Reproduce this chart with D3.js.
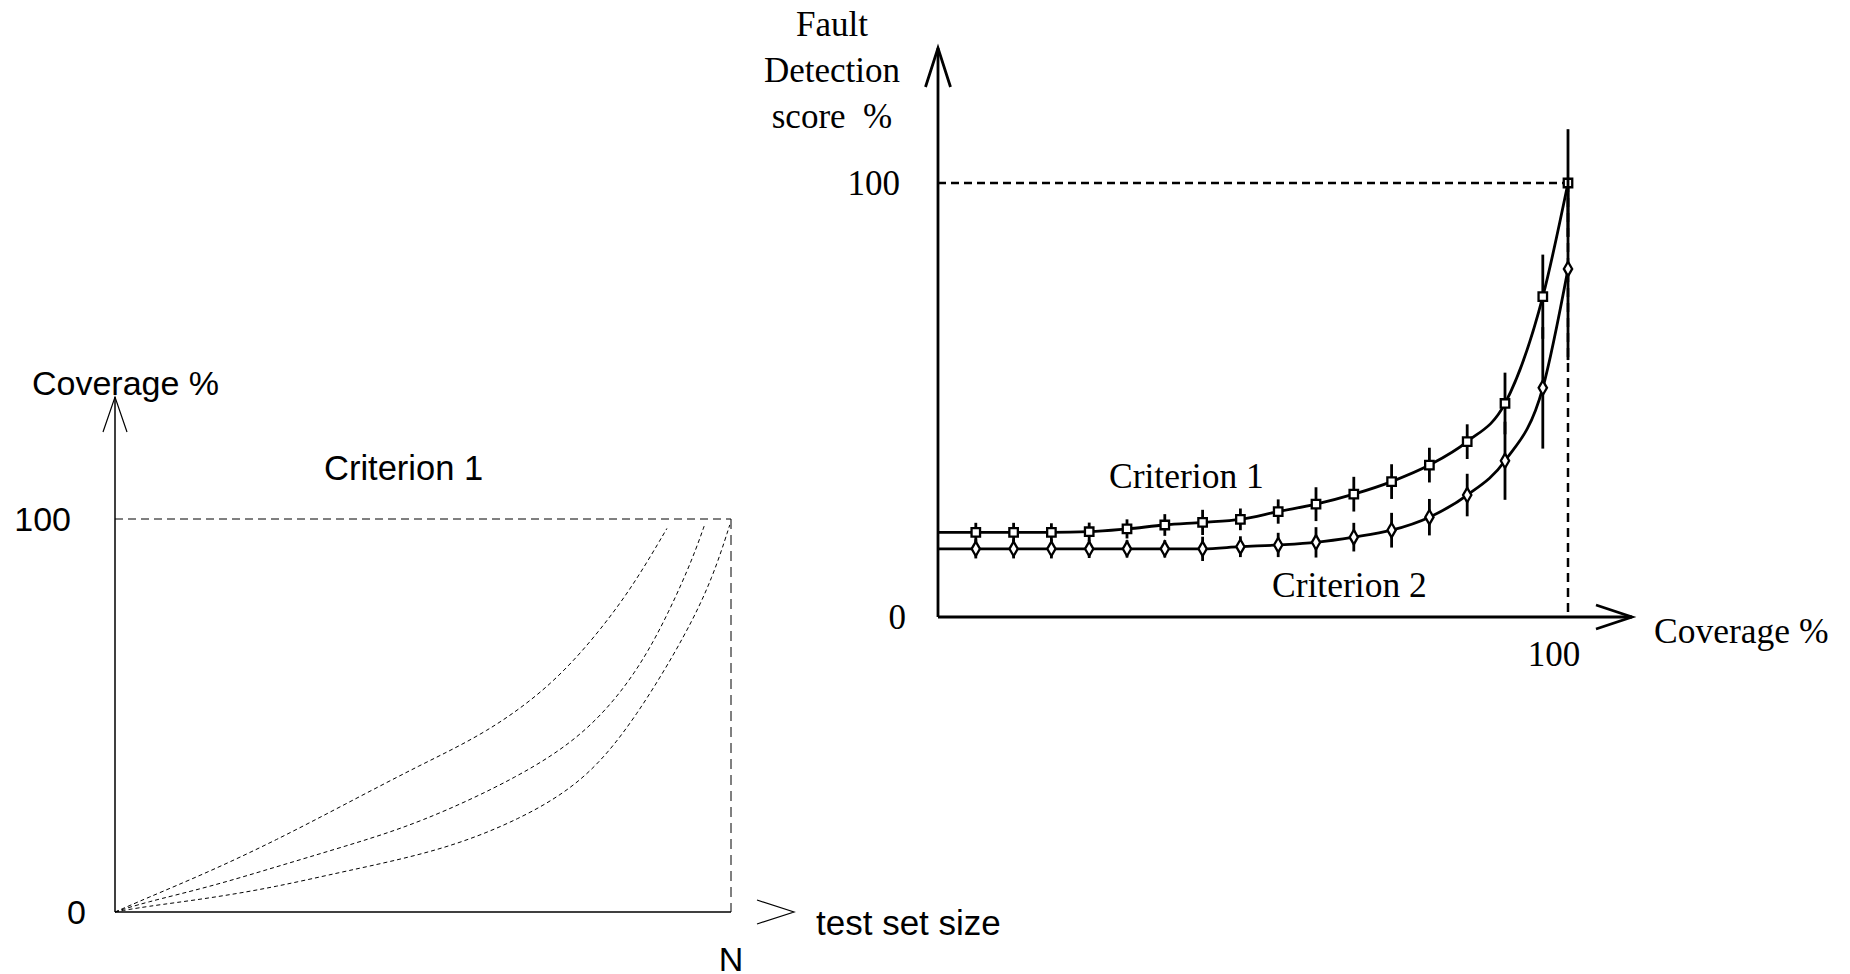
<!DOCTYPE html>
<html>
<head>
<meta charset="utf-8">
<script src="https://cdn.jsdelivr.net/npm/d3@7/dist/d3.min.js"></script>
<style>
  html, body { margin: 0; padding: 0; background: #fff; }
  svg { display: block; }
</style>
</head>
<body>
<div id="chart"></div>
<script>
// ---- left chart: coverage vs test set size (three schematic curves) ----
var sizeA = [0, 4.5, 15.4, 26.2, 37.1, 49.5, 60.3, 71.1, 79.3, 84.7, 89.6];
var covA  = [0, 3.1, 10.3, 18.3, 27.2, 37.4, 45.5, 57.8, 72.6, 84.5, 97.6];
var sizeB = [0, 4.5, 15.4, 26.2, 37.1, 49.5, 65.7, 76.6, 84.7, 90.1, 93.9, 95.8];
var covB  = [0, 2.3, 6.4, 11.5, 16.6, 22.6, 34.4, 45.5, 60.7, 76.8, 90.4, 98.9];
var sizeC = [0, 4.5, 15.4, 26.2, 37.1, 52.8, 65.7, 76.6, 84.7, 92.8, 97.1, 99.8];
var covC  = [0, 1.3, 3.5, 6.4, 10.3, 15.5, 23.4, 33.6, 49.7, 70.9, 85.3, 98.5];
var leftTicks = [0, 100];

// ---- right chart: fault detection score vs coverage ----
var coverage  = [0, 6, 12, 18, 24, 30, 36, 42, 48, 54, 60, 66, 72, 78, 84, 90, 96, 100];
var crit1     = [19.5, 19.5, 19.5, 19.5, 19.65, 20.3, 21.2, 21.8, 22.5, 24.3, 26.0, 28.3, 31.2, 35.0, 40.4, 49.2, 73.8, 100];
var crit1Err  = [null, 2.2, 2.2, 2.1, 2.1, 2.2, 2.5, 2.9, 2.5, 2.8, 3.9, 4.0, 4.0, 4.0, 4.0, 7.1, 9.7, 12.4];
var crit2     = [15.7, 15.7, 15.7, 15.7, 15.7, 15.7, 15.7, 15.7, 16.2, 16.6, 17.2, 18.4, 20.0, 23.0, 28.1, 36.0, 52.8, 80.2];
var crit2Err  = [null, 2.2, 2.2, 2.2, 2.1, 2.0, 2.0, 2.8, 2.4, 2.8, 3.5, 3.3, 4.0, 4.2, 4.9, 9.0, 14.0, 21.0];
var rightTicks = [0, 100];

var W = 1850, H = 974;
var sans = "'Liberation Sans', Arial, sans-serif";
var serif = "'Liberation Serif', 'Times New Roman', serif";

var svg = d3.select('#chart').append('svg')
  .attr('width', W)
  .attr('height', H);

// ================= left =================
var xL = d3.scaleLinear().domain([0, 100]).range([115, 731]);
var yL = d3.scaleLinear().domain([0, 100]).range([912, 519]);
var left = svg.append('g');

// axes
left.append('line')
  .attr('x1', xL(0)).attr('y1', yL(0)).attr('x2', xL(0)).attr('y2', 397)
  .attr('stroke', '#000').attr('stroke-width', 1.5);
left.append('path')
  .attr('d', 'M' + (xL(0) - 12) + ',432L' + xL(0) + ',397L' + (xL(0) + 12) + ',432')
  .attr('fill', 'none').attr('stroke', '#000').attr('stroke-width', 1.2);
left.append('line')
  .attr('x1', xL(0)).attr('y1', yL(0)).attr('x2', xL(100)).attr('y2', yL(0))
  .attr('stroke', '#000').attr('stroke-width', 1.5);
left.append('path')
  .attr('d', 'M757,' + (yL(0) - 12) + 'L794,' + yL(0) + 'L757,' + (yL(0) + 12))
  .attr('fill', 'none').attr('stroke', '#000').attr('stroke-width', 1.2);

// 100% guide lines
left.append('line')
  .attr('x1', xL(0)).attr('y1', yL(100)).attr('x2', xL(100)).attr('y2', yL(100))
  .attr('stroke', '#000').attr('stroke-width', 1).attr('stroke-dasharray', '8,5');
left.append('line')
  .attr('x1', xL(100)).attr('y1', yL(100)).attr('x2', xL(100)).attr('y2', yL(0))
  .attr('stroke', '#000').attr('stroke-width', 1).attr('stroke-dasharray', '10,6');

var lineL = d3.line()
  .x(function (d) { return xL(d[0]); })
  .y(function (d) { return yL(d[1]); })
  .curve(d3.curveBasis);

[[sizeA, covA], [sizeB, covB], [sizeC, covC]].forEach(function (s) {
  left.append('path')
    .datum(d3.zip(s[0], s[1]))
    .attr('d', lineL)
    .attr('fill', 'none')
    .attr('stroke', '#000')
    .attr('stroke-width', 1)
    .attr('stroke-dasharray', '4,3');
});

// tick labels
left.selectAll('text.ytick')
  .data(leftTicks)
  .enter().append('text')
  .attr('class', 'ytick')
  .attr('x', function (d) { return d === 0 ? 86 : 71; })
  .attr('y', function (d) { return yL(d) + 12; })
  .attr('text-anchor', 'end')
  .attr('font-family', sans).attr('font-size', 34)
  .text(function (d) { return d; });

left.append('text').attr('x', xL(100)).attr('y', 971).attr('text-anchor', 'middle')
  .attr('font-family', sans).attr('font-size', 34).text('N');
left.append('text').attr('x', 32).attr('y', 395)
  .attr('font-family', sans).attr('font-size', 34).text('Coverage %');
left.append('text').attr('x', 816).attr('y', 935)
  .attr('font-family', sans).attr('font-size', 35).text('test set size');
left.append('text').attr('x', 324).attr('y', 480)
  .attr('font-family', sans).attr('font-size', 34.5).text('Criterion 1');

// ================= right =================
var xR = d3.scaleLinear().domain([0, 100]).range([938, 1568]);
var yR = d3.scaleLinear().domain([0, 100]).range([617, 183]);
var right = svg.append('g');

right.append('line')
  .attr('x1', xR(0)).attr('y1', yR(0)).attr('x2', xR(0)).attr('y2', 48)
  .attr('stroke', '#000').attr('stroke-width', 2.8);
right.append('path')
  .attr('d', 'M' + (xR(0) - 12.5) + ',87L' + xR(0) + ',48L' + (xR(0) + 12.5) + ',87')
  .attr('fill', 'none').attr('stroke', '#000').attr('stroke-width', 2.8);
right.append('line')
  .attr('x1', xR(0)).attr('y1', yR(0)).attr('x2', 1632).attr('y2', yR(0))
  .attr('stroke', '#000').attr('stroke-width', 2.8);
right.append('path')
  .attr('d', 'M1596,' + (yR(0) - 12) + 'L1632,' + yR(0) + 'L1596,' + (yR(0) + 12))
  .attr('fill', 'none').attr('stroke', '#000').attr('stroke-width', 2.8);

right.append('line')
  .attr('x1', xR(0)).attr('y1', yR(100)).attr('x2', xR(100)).attr('y2', yR(100))
  .attr('stroke', '#000').attr('stroke-width', 2.5).attr('stroke-dasharray', '8,5');
right.append('line')
  .attr('x1', xR(100)).attr('y1', yR(100)).attr('x2', xR(100)).attr('y2', yR(0))
  .attr('stroke', '#000').attr('stroke-width', 2.5).attr('stroke-dasharray', '9,6');

var lineR = d3.line()
  .x(function (d) { return xR(d[0]); })
  .y(function (d) { return yR(d[1]); })
  .curve(d3.curveMonotoneX);

var series = [
  { vals: crit1, err: crit1Err, shape: d3.symbolSquare, size: 72 },
  { vals: crit2, err: crit2Err, shape: d3.symbolDiamond, size: 60 }
];

series.forEach(function (s) {
  var pts = d3.zip(coverage, s.vals, s.err);
  right.append('path')
    .datum(pts)
    .attr('d', lineR)
    .attr('fill', 'none')
    .attr('stroke', '#000')
    .attr('stroke-width', 2.8);

  var mk = pts.filter(function (d) { return d[2] != null; });
  right.selectAll(null)
    .data(mk)
    .enter().append('line')
    .attr('x1', function (d) { return xR(d[0]); })
    .attr('x2', function (d) { return xR(d[0]); })
    .attr('y1', function (d) { return yR(d[1] - d[2]); })
    .attr('y2', function (d) { return yR(d[1] + d[2]); })
    .attr('stroke', '#000')
    .attr('stroke-width', 2.8);
  right.selectAll(null)
    .data(mk)
    .enter().append('path')
    .attr('transform', function (d) { return 'translate(' + xR(d[0]) + ',' + yR(d[1]) + ')'; })
    .attr('d', d3.symbol().type(s.shape).size(s.size))
    .attr('fill', '#fff')
    .attr('stroke', '#000')
    .attr('stroke-width', 2.3);
});

right.selectAll('text.ytick')
  .data(rightTicks)
  .enter().append('text')
  .attr('class', 'ytick')
  .attr('x', function (d) { return d === 0 ? 906 : 900; })
  .attr('y', function (d) { return yR(d) + 12; })
  .attr('text-anchor', 'end')
  .attr('font-family', serif).attr('font-size', 35)
  .text(function (d) { return d; });

right.append('text').attr('x', xR(100) - 14).attr('y', 666).attr('text-anchor', 'middle')
  .attr('font-family', serif).attr('font-size', 35).text('100');
right.append('text').attr('x', 1654).attr('y', 643)
  .attr('font-family', serif).attr('font-size', 35.5).text('Coverage %');

var yTitle = ['Fault', 'Detection', 'score  %'];
right.selectAll('text.ytitle')
  .data(yTitle)
  .enter().append('text')
  .attr('class', 'ytitle')
  .attr('x', 832)
  .attr('y', function (d, i) { return 36 + i * 46; })
  .attr('text-anchor', 'middle')
  .style('white-space', 'pre')
  .attr('font-family', serif).attr('font-size', 35)
  .text(function (d) { return d; });

right.append('text').attr('x', 1109).attr('y', 488)
  .attr('font-family', serif).attr('font-size', 35.5).text('Criterion 1');
right.append('text').attr('x', 1272).attr('y', 597)
  .attr('font-family', serif).attr('font-size', 35.5).text('Criterion 2');
</script>
</body>
</html>
